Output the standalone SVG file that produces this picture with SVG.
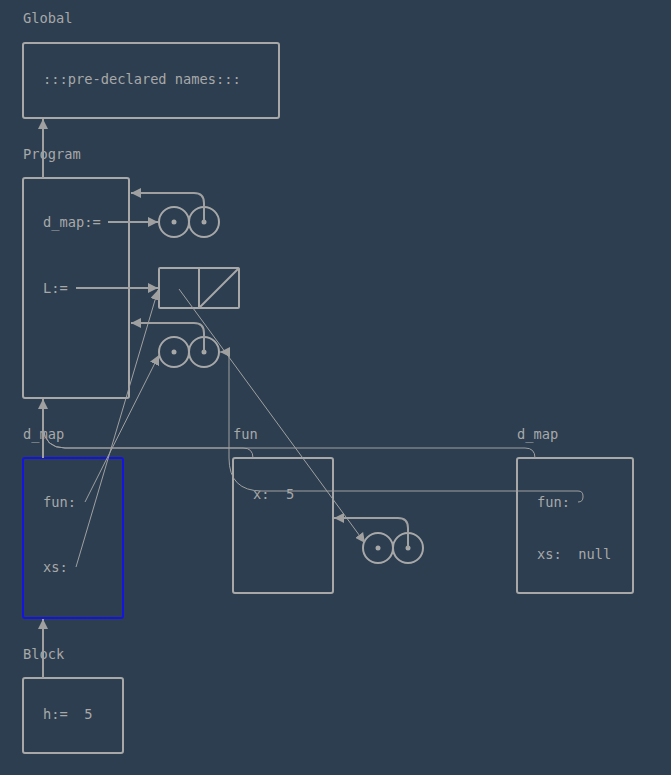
<svg xmlns="http://www.w3.org/2000/svg" width="671" height="775" viewBox="0 0 671 775">
<defs>
<marker id="ah" viewBox="0 0 10 10" refX="10" refY="5" markerWidth="10" markerHeight="10" markerUnits="userSpaceOnUse" orient="auto">
<path d="M0,0 L10,5 L0,10 Z" fill="#a0a0a0"/>
</marker>
<style>
text{font-family:"DejaVu Sans Mono","Liberation Mono",monospace;font-size:13.7px;fill:#a8a8a8;white-space:pre}
.fr{fill:none;stroke:#a8a8a8;stroke-width:2}
.cur{fill:none;stroke:#1414e0;stroke-width:2}
.c{fill:none;stroke:#a0a0a0;stroke-width:2}
.thin{fill:none;stroke:#a0a0a0;stroke-width:1}
.dot{fill:#a8a8a8}
.cell{fill:none;stroke:#a8a8a8;stroke-width:2}
</style>
</defs>
<rect width="671" height="775" fill="#2c3e50"/>

<g id="global">
<text x="23" y="23">Global</text>
<rect class="fr" x="23" y="43" width="256" height="75" rx="2"/>
<text x="43" y="84">:::pre-declared names:::</text>
</g>

<g id="program">
<text x="23" y="159">Program</text>
<rect class="fr" x="23" y="178" width="106" height="220" rx="2"/>
<text x="43" y="227">d_map:=</text>
<text x="43" y="293">L:=</text>
</g>

<g id="pair1">
<circle class="cell" cx="174" cy="222" r="15"/>
<circle class="cell" cx="204" cy="222" r="15"/>
<circle class="dot" cx="174" cy="222" r="2.5"/>
<circle class="dot" cx="204" cy="222" r="2.5"/>
</g>

<g id="listL">
<rect class="cell" x="159" y="268" width="80" height="40" rx="1"/>
<line class="cell" x1="199" y1="268" x2="199" y2="308"/>
<line class="cell" x1="199" y1="308" x2="239" y2="268"/>
</g>

<g id="pair2">
<circle class="cell" cx="174" cy="352" r="15"/>
<circle class="cell" cx="204" cy="352" r="15"/>
<circle class="dot" cx="174" cy="352" r="2.5"/>
<circle class="dot" cx="204" cy="352" r="2.5"/>
</g>

<g id="pair3">
<circle class="cell" cx="378" cy="548" r="15"/>
<circle class="cell" cx="408" cy="548" r="15"/>
<circle class="dot" cx="378" cy="548" r="2.5"/>
<circle class="dot" cx="408" cy="548" r="2.5"/>
</g>

<g id="dmap1">
<text x="23" y="439">d_map</text>
<rect class="cur" x="23" y="458" width="100" height="160" rx="2"/>
<text x="43" y="507">fun:</text>
<text x="43" y="572">xs:</text>
</g>

<g id="fun">
<text x="233" y="439">fun</text>
<rect class="fr" x="233" y="458" width="100" height="135" rx="2"/>
<text x="253" y="499" xml:space="preserve">x:  5</text>
</g>

<g id="dmap2">
<text x="517" y="439">d_map</text>
<rect class="fr" x="517" y="458" width="116" height="135" rx="2"/>
<text x="537" y="507">fun:</text>
<text x="537" y="559" xml:space="preserve">xs:  null</text>
</g>

<g id="block">
<text x="23" y="659">Block</text>
<rect class="fr" x="23" y="678" width="100" height="75" rx="2"/>
<text x="43" y="719" xml:space="preserve">h:=  5</text>
</g>

<g id="connectors">
<line class="c" x1="43" y1="178" x2="43" y2="119" marker-end="url(#ah)"/>
<line class="c" x1="43" y1="458" x2="43" y2="399" marker-end="url(#ah)"/>
<line class="c" x1="43" y1="678" x2="43" y2="619" marker-end="url(#ah)"/>
<path class="thin" d="M253,458 Q253,448 243,448 L65,448 Q45,448 43,428"/>
<path class="thin" d="M535,458 Q535,448 525,448 L65,448 Q45,448 43,428"/>
<line class="c" x1="108" y1="222" x2="158" y2="222" marker-end="url(#ah)"/>
<path class="c" d="M204,222 L204,203 Q204,193 194,193 L131,193" marker-end="url(#ah)"/>
<line class="c" x1="76" y1="288" x2="158" y2="288" marker-end="url(#ah)"/>
<path class="c" d="M204,352 L204,333 Q204,323 194,323 L131,323" marker-end="url(#ah)"/>
<path class="c" d="M408,548 L408,528 Q408,518 398,518 L334,518" marker-end="url(#ah)"/>
<line class="thin" x1="179" y1="289" x2="365" y2="543" marker-end="url(#ah)"/>
<line class="thin" x1="85" y1="502" x2="159" y2="355" marker-end="url(#ah)"/>
<line class="thin" x1="76" y1="567" x2="158" y2="290" marker-end="url(#ah)"/>
<path class="thin" d="M578,502 Q583,502 583,497 L583,496 Q583,491 578,491 L262,491 Q229,491 229,458 L229,356 Q229,352 225,352 L220,352" marker-end="url(#ah)"/>
</g>
</svg>
